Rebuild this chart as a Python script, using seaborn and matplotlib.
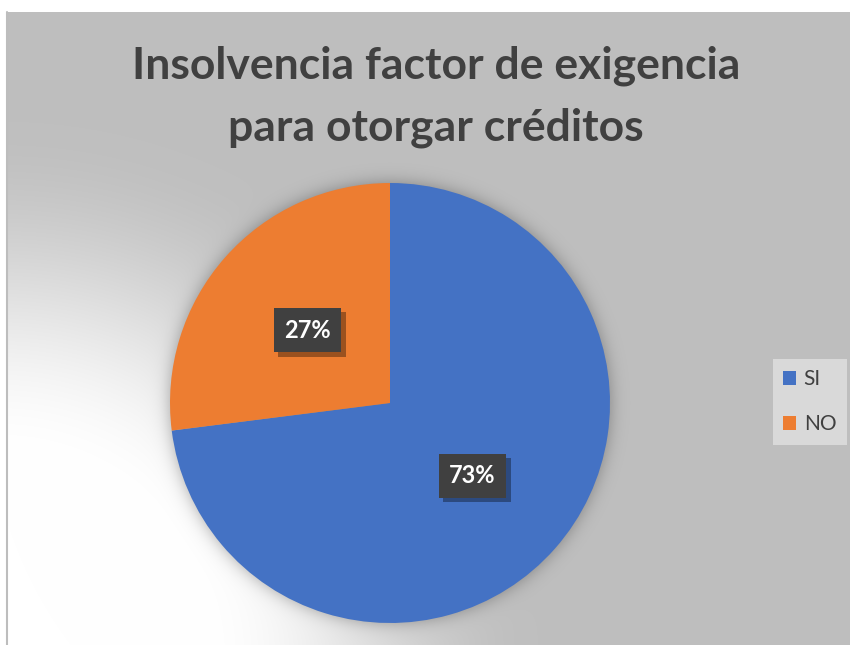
import numpy as np
import matplotlib
matplotlib.use("Agg")
import matplotlib.pyplot as plt
import matplotlib.patheffects as pe
import seaborn as sns

# Data
categories = ["SI", "NO"]
values = [73, 27]
colors = ["#4472C4", "#ED7D31"]
title_lines = ["Insolvencia factor de exigencia", "para otorgar créditos"]

W, H = 850, 645
sns.set_theme(style="white")
plt.rcParams['font.family'] = ['Lato', 'DejaVu Sans']

fig = plt.figure(figsize=(8.5, 6.45), dpi=100)
fig.patch.set_facecolor('white')

# Background: gray chart area with a soft light glow at lower left
bg = fig.add_axes([0, 0, 1, 1])
yy, xx = np.mgrid[0:H, 0:W] + 0.5
gray = 0.749
d = np.hypot(xx, yy - 660)
t = np.clip((540 - d) / 340, 0, 1)
t = t * t * (3 - 2 * t)
val = gray + (1 - gray) * t

# soft shadow around the pie
cx, cy, R = 390, 403, 220
dp = np.hypot(xx - cx, yy - cy)
sh = 0.32 * 0.5 * (1 - np.tanh((dp - R) / 10))
val = val * (1 - sh)
val[yy < 12] = 1
val[xx < 7] = 1
bg.imshow(np.dstack([val] * 3), extent=(0, W, H, 0), aspect='auto', interpolation='bilinear')
bg.plot([7.5, 7.5], [12, H], color='#BDBDBD', lw=1.5)
bg.set_xlim(0, W)
bg.set_ylim(H, 0)
bg.axis('off')

# Pie
ax = fig.add_axes([(cx - R) / W, (H - cy - R) / H, 2 * R / W, 2 * R / H])
wedges, texts, autotexts = ax.pie(values, colors=colors, startangle=90, counterclock=False,
                                  autopct='%1.0f%%', pctdistance=0.5,
                                  wedgeprops=dict(linewidth=0))
ax.set_xlim(-1, 1)
ax.set_ylim(-1, 1)
ax.axis('off')

for at in autotexts:
    at.set_color('white')
    at.set_fontsize(17)
    at.set_fontweight('bold')
    at.set_bbox(dict(boxstyle='square,pad=0.45', fc='#404040', ec='none'))
    at.get_bbox_patch().set_path_effects([pe.withSimplePatchShadow(offset=(3, -3), shadow_rgbFace='black', alpha=0.35)])

# Title
fig.text(436 / W, 1 - 79 / H, title_lines[0], ha='center', va='baseline',
         fontsize=32, fontweight='bold', color='#404040')
fig.text(436 / W, 1 - 141 / H, title_lines[1], ha='center', va='baseline',
         fontsize=32, fontweight='bold', color='#404040')

# Legend
leg = fig.legend(wedges, categories, loc='upper left', bbox_to_anchor=(773 / W, 1 - 359 / H),
                 frameon=True, facecolor='#D9D9D9', edgecolor='none', fancybox=False,
                 fontsize=15, handlelength=0.62, handleheight=0.62, handletextpad=0.35,
                 labelspacing=1.2, borderpad=0.5, borderaxespad=0, labelcolor='#404040')
leg.get_frame().set_alpha(1)

fig.savefig('out.png', dpi=100)
